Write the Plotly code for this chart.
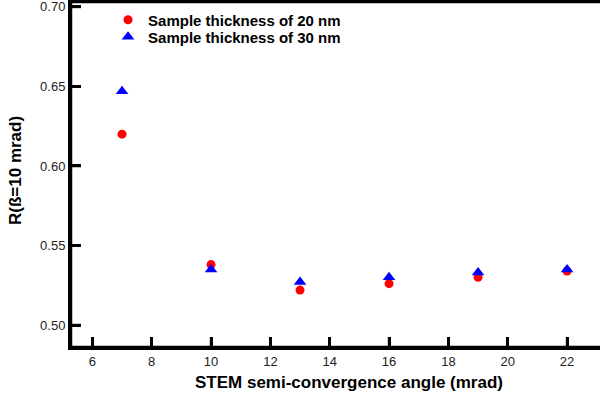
import plotly.graph_objects as go

angles = [7, 10, 13, 16, 19, 22]
r_20nm = [0.620, 0.538, 0.522, 0.526, 0.530, 0.534]
r_30nm = [0.647, 0.535, 0.527, 0.530, 0.533, 0.535]
names = ["Sample thickness of 20 nm", "Sample thickness of 30 nm"]
x_ticks = [6, 8, 10, 12, 14, 16, 18, 20, 22]
y_ticks = [0.50, 0.55, 0.60, 0.65, 0.70]
x_title = "STEM semi-convergence angle (mrad)"
y_title = "R(ß=10 mrad)"

INK = "#000000"

fig = go.Figure()
fig.add_trace(go.Scatter(x=angles, y=r_20nm, mode="markers", name="<b>" + names[0] + "</b>",
                         legend="legend",
                         marker=dict(symbol="circle", size=9, color="#FF0000")))
fig.add_trace(go.Scatter(x=angles, y=r_30nm, mode="markers", name="<b>" + names[1] + "</b>",
                         legend="legend2",
                         marker=dict(symbol="triangle-up", size=11, color="#0000FF")))

fig.update_xaxes(range=[5.28, 23.11], tickmode="array", tickvals=x_ticks, mirror=True,
                 showgrid=False, zeroline=False, showline=True, linecolor=INK, linewidth=3,
                 ticks="inside", ticklen=10, tickwidth=2.5, tickcolor=INK)
fig.update_yaxes(range=[0.4862, 0.7031], tickmode="array", tickvals=y_ticks, tickformat=".2f",
                 showgrid=False, zeroline=False, showline=True, linecolor=INK, linewidth=3,
                 ticks="inside", ticklen=10, tickwidth=2.5, tickcolor=INK,
                 ticklabeloverflow="allow")

# axis frame and tick marks reinforced as shapes tied to the axes
shapes = [
    dict(type="line", xref="x domain", yref="y domain", x0=0, x1=0, y0=0, y1=1),
    dict(type="line", xref="x domain", yref="y domain", x0=0, x1=1, y0=0, y1=0),
    dict(type="line", xref="x domain", yref="y domain", x0=0, x1=1, y0=1, y1=1),
]
for t in x_ticks:
    shapes.append(dict(type="line", xref="x", yref="y domain", x0=t, x1=t, y0=0, y1=10 / 345))
for t in y_ticks:
    shapes.append(dict(type="line", xref="x domain", yref="y", x0=0, x1=10 / 529, y0=t, y1=t))
for s in shapes:
    s.update(line=dict(color=INK, width=2.5), layer="above")

fig.update_layout(
    template="none",
    width=600, height=400,
    margin=dict(l=71, r=0, t=2, b=53),
    font=dict(family="Liberation Sans", size=13, color="#222222"),
    showlegend=True,
    shapes=shapes,
    legend=dict(x=0.07, y=1 - (20 - 2) / 345, xanchor="left", yanchor="middle",
                bgcolor="rgba(0,0,0,0)", font=dict(size=15, color="black")),
    legend2=dict(x=0.07, y=1 - (37 - 2) / 345, xanchor="left", yanchor="middle",
                 bgcolor="rgba(0,0,0,0)", font=dict(size=15, color="black")),
    annotations=[
        dict(text="<b>" + x_title + "</b>", xref="paper", yref="paper",
             x=(349 - 71) / 529, y=0, yshift=-35, xanchor="center", yanchor="middle",
             showarrow=False, font=dict(size=17, color="black")),
        dict(text="<b>" + y_title + "</b>", xref="paper", yref="paper",
             x=0, xshift=-56, y=1 - (171 - 2) / 345, xanchor="center", yanchor="middle",
             textangle=-90, showarrow=False, font=dict(size=17, color="black")),
    ],
)

fig.write_html("out.html")
